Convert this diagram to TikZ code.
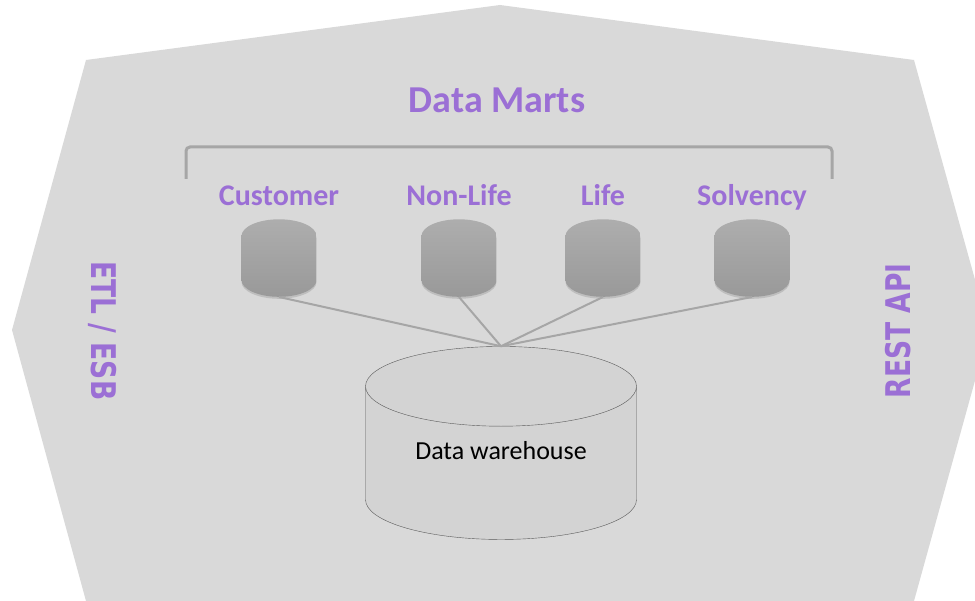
\documentclass[tikz,border=0pt]{standalone}
\usepackage{fontspec}
\setmainfont{Carlito}
\newfontfamily\sidefont{DejaVu Sans}
\usetikzlibrary{shapes.geometric,positioning,shadows}
\definecolor{martPurple}{HTML}{9B6FD5}
\definecolor{panelGray}{HTML}{D9D9D9}
\definecolor{linkGray}{HTML}{A6A6A6}
\definecolor{whGray}{HTML}{D3D3D3}

\begin{document}
\begin{tikzpicture}[x=1pt, y=-1pt,
                mart/.style={cylinder, shape border rotate=90, aspect=0.8, minimum width=75pt, minimum height=77pt, inner sep=21pt, draw=none, anchor=south,
                    path picture={\shade [top color=black!32, bottom color=black!40] (path picture bounding box.north west) rectangle (path picture bounding box.south east);},
                    drop shadow={opacity=0.3, shadow xshift=0pt, shadow yshift=-2pt}},
                martlabel/.style={font=\bfseries\fontsize{30}{32}\selectfont, text=martPurple, anchor=base},
                warehouse/.style={cylinder, shape border rotate=90, aspect=0.465, minimum width=271pt, minimum height=193pt, inner sep=0pt, draw=black!65, fill=whGray, font=\fontsize{26}{28}\selectfont},
                side/.style={font=\sidefont\bfseries\fontsize{34}{36}\selectfont, text=martPurple},
                link/.style={draw=linkGray, line width=2pt},
                bracket/.style={draw=linkGray, line width=3pt, rounded corners=4pt}
            ]
            \useasboundingbox (0,0) rectangle (975,601);
            % background panel
            \begin{scope}
                \clip (0,0) rectangle (975,601);
                \fill [panelGray] (500,5) -- (914,60) -- (989,330) -- (914,601) -- (880,700)
                    -- (120,700) -- (86,601) -- (12,330) -- (86,60) -- cycle;
            \end{scope}

            \node (title) at (497,113) [martlabel, font=\bfseries\fontsize{38}{40}\selectfont] {Data Marts};
            \draw [bracket] (186,179) -- (186,147) -- (832,147) -- (832,179);

            \node (cust) at (279,297) [mart] {};
            \node (nonlife) at (459,297) [mart] {};
            \node (life) at (603,297) [mart] {};
            \node (solv) at (752,297) [mart] {};

            \node (custlbl) at (279,206) [martlabel] {Customer};
            \node (nonlifelbl) at (459,206) [martlabel] {Non-Life};
            \node (lifelbl) at (603,206) [martlabel] {Life};
            \node (solvlbl) at (752,206) [martlabel] {Solvency};

            \node (dw) at (501,463) [warehouse] {\raisebox{26pt}{Data warehouse}};

            \node (etl) at (103,331) [side, rotate=-90] {\scalebox{0.78}[1]{ETL / ESB}};
            \node (rest) at (898,331) [side, rotate=90] {\scalebox{0.78}[1]{REST API}};

            \draw [link] (cust.south) -- (dw.north);
            \draw [link] (nonlife.south) -- (dw.north);
            \draw [link] (life.south) -- (dw.north);
            \draw [link] (solv.south) -- (dw.north);
        \end{tikzpicture}
\end{document}
